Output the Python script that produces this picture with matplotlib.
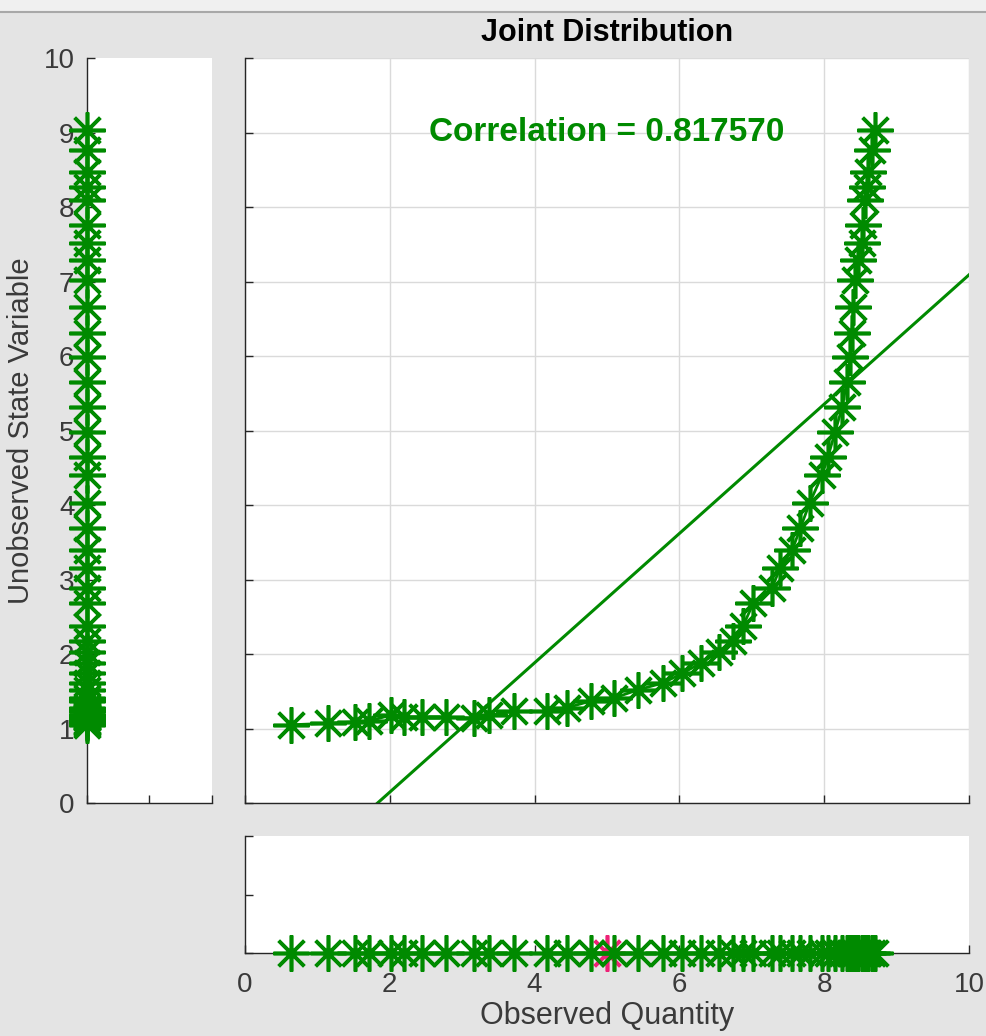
import numpy as np
import matplotlib
matplotlib.use("Agg")
from matplotlib import pyplot as plt
from matplotlib.patches import Rectangle
from matplotlib.lines import Line2D

# samples of the observed quantity and the hidden state
obs_x = [0.64, 1.15, 1.52, 1.71, 2.02, 2.20, 2.44, 2.78, 3.16, 3.37,
         3.72, 4.17, 4.45, 4.78, 5.10, 5.43, 5.77, 6.04, 6.30, 6.55,
         6.74, 6.88, 7.02, 7.28, 7.39, 7.56, 7.67, 7.80, 7.97, 8.05,
         8.15, 8.25, 8.31, 8.36, 8.38, 8.40, 8.43, 8.47, 8.52, 8.54,
         8.56, 8.59, 8.60, 8.66, 8.70]
state_y = [1.05, 1.07, 1.09, 1.10, 1.18, 1.15, 1.15, 1.15, 1.14, 1.18,
           1.23, 1.23, 1.28, 1.37, 1.41, 1.52, 1.61, 1.74, 1.88, 2.03,
           2.17, 2.38, 2.68, 2.89, 3.15, 3.40, 3.69, 4.03, 4.40, 4.64,
           4.98, 5.32, 5.65, 5.99, 6.31, 6.66, 7.02, 7.29, 7.52, 7.76,
           8.09, 8.27, 8.47, 8.77, 9.03]

# current observation
obs_now = 5.0
corr_value = 0.817570

# least squares line shown over the joint plot
fit_slope = 0.868
fit_icpt = -1.59

green = '#008a00'
pink = '#ee2277'
tick_grey = '#3a3a3a'
font = 'Liberation Sans'
ms = 26
mew = 2.6

fig = plt.figure(figsize=(9.87, 10.36), dpi=100)
fig.patch.set_facecolor('#e4e4e4')

# window frame strip along the top
fig.patches.append(Rectangle((0, 0.989), 1, 0.011, transform=fig.transFigure,
                             facecolor='#f0f0f0', edgecolor='none', zorder=0))
fig.lines.append(Line2D([0, 1], [0.9885, 0.9885], transform=fig.transFigure,
                        color='#a8a8a8', linewidth=1.5))

ax_main = fig.add_axes([0.2482, 0.2249, 0.7336, 0.7191])
ax_left = fig.add_axes([0.0881, 0.2249, 0.1267, 0.7191])
ax_bot = fig.add_axes([0.2482, 0.0801, 0.7336, 0.1129])


def style_axes(ax):
    ax.set_facecolor('white')
    ax.spines['top'].set_visible(False)
    ax.spines['right'].set_visible(False)
    for s in ('left', 'bottom'):
        ax.spines[s].set_color('#262626')
        ax.spines[s].set_linewidth(1.0)
    ax.tick_params(direction='in', length=6, width=1.0, colors='#262626',
                   labelcolor=tick_grey, labelsize=20)
    ax.tick_params(axis='y', pad=9)
    ax.tick_params(axis='x', pad=14)


# joint distribution
style_axes(ax_main)
ax_main.plot(obs_x, state_y, '-', color=green, linewidth=2, zorder=3)
ax_main.plot(obs_x, state_y, linestyle='none', marker=(8, 2, 0), markersize=ms,
             markeredgewidth=mew, color=green, zorder=3)
fx = np.array([0.0, 10.0])
ax_main.plot(fx, fit_slope * fx + fit_icpt, color=green, linewidth=2.2, zorder=2)
ax_main.set_xlim(0, 10)
ax_main.set_ylim(0, 10)
ax_main.set_xticks(np.arange(0, 11, 2))
ax_main.set_yticks(np.arange(0, 11, 1))
ax_main.set_xticklabels([])
ax_main.set_yticklabels([])
ax_main.grid(True, color='#dadada', linewidth=1.0)
ax_main.set_axisbelow(True)
ax_main.set_title('Joint Distribution', fontsize=22, fontweight='bold',
                  family=font, pad=12)
ax_main.text(5.0, 9.0, 'Correlation = %f' % corr_value, color=green,
             fontsize=24, fontweight='bold', family=font,
             ha='center', va='center')

# marginal of the state variable
style_axes(ax_left)
ax_left.plot(np.zeros(len(state_y)), state_y, '-', color=green, linewidth=2,
             clip_on=False, zorder=3)
ax_left.plot(np.zeros(len(state_y)), state_y, linestyle='none', marker=(8, 2, 0),
             markersize=ms, markeredgewidth=mew, color=green, clip_on=False, zorder=3)
ax_left.set_xlim(0, 1)
ax_left.set_ylim(0, 10)
ax_left.set_xticks([0, 0.5, 1])
ax_left.set_xticklabels([])
ax_left.set_yticks(np.arange(0, 11, 1))
ax_left.set_yticklabels([str(v) for v in range(11)], family=font)
ax_left.set_ylabel('Unobserved State Variable', fontsize=21, color=tick_grey,
                   family=font, va='center')
ax_left.yaxis.set_label_coords(-0.53, 0.5)

# marginal of the observed quantity
style_axes(ax_bot)
ax_bot.plot([obs_now], [0], linestyle='none', marker=(8, 2, 0), markersize=ms,
            markeredgewidth=mew, color=pink, clip_on=False, zorder=2)
ax_bot.plot(obs_x, np.zeros(len(obs_x)), '-', color=green, linewidth=2,
            clip_on=False, zorder=3)
ax_bot.plot(obs_x, np.zeros(len(obs_x)), linestyle='none', marker=(8, 2, 0),
            markersize=ms, markeredgewidth=mew, color=green, clip_on=False, zorder=3)
ax_bot.set_xlim(0, 10)
ax_bot.set_ylim(0, 1)
ax_bot.set_yticks([0, 0.5, 1])
ax_bot.set_yticklabels([])
ax_bot.set_xticks(np.arange(0, 11, 2))
ax_bot.set_xticklabels([str(v) for v in range(0, 11, 2)], family=font)
ax_bot.set_xlabel('Observed Quantity', fontsize=22, color=tick_grey,
                  family=font, va='center')
ax_bot.xaxis.set_label_coords(0.5, -0.54)

plt.savefig('out.png', dpi=100, facecolor=fig.get_facecolor())
